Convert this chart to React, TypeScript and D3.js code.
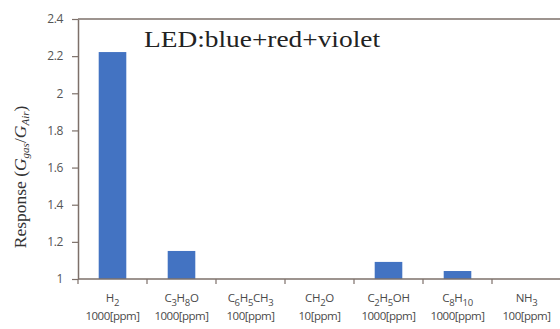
import React, { useEffect, useRef } from 'react';
import * as d3 from 'd3';

// gas formula pieces: [text, isSubscript]
const gasNames: [string, boolean][][] = [
  [['H', false], ['2', true]],
  [['C', false], ['3', true], ['H', false], ['8', true], ['O', false]],
  [['C', false], ['6', true], ['H', false], ['5', true], ['CH', false], ['3', true]],
  [['CH', false], ['2', true], ['O', false]],
  [['C', false], ['2', true], ['H', false], ['5', true], ['OH', false]],
  [['C', false], ['8', true], ['H', false], ['10', true]],
  [['NH', false], ['3', true]],
];
const concentrations = ['1000[ppm]', '1000[ppm]', '100[ppm]', '10[ppm]', '1000[ppm]', '1000[ppm]', '100[ppm]'];
const responses = [2.222, 1.151, 1.0, 1.0, 1.092, 1.043, 1.0];
const yTicks = [1, 1.2, 1.4, 1.6, 1.8, 2, 2.2, 2.4];

const W = 560;
const H = 329;

export default function App() {
  const ref = useRef<SVGSVGElement | null>(null);

  useEffect(() => {
    const svg = d3.select(ref.current);
    svg.selectAll('*').remove();

    const left = 78, right = 561, top = 19, bottom = 279;
    const axisColor = '#7d706a';
    const idx = responses.map((_, i) => i);

    const x = d3.scaleBand<number>().domain(idx).range([left, right]).paddingInner(0.6).paddingOuter(0.3);
    const xb = d3.scaleBand<number>().domain(idx).range([left, right]);
    const y = d3.scaleLinear().domain([1, 2.4]).range([bottom, top]);

    svg.append('rect').attr('width', W).attr('height', H).attr('fill', '#fff');

    // bars
    svg.selectAll('rect.bar')
      .data(responses)
      .enter()
      .append('rect')
      .attr('class', 'bar')
      .attr('x', (d, i) => x(i)!)
      .attr('width', x.bandwidth())
      .attr('y', (d) => y(d))
      .attr('height', (d) => y(1) - y(d))
      .attr('fill', '#4373c2');

    // top frame line
    svg.append('line')
      .attr('x1', left).attr('x2', W).attr('y1', top).attr('y2', top)
      .attr('stroke', axisColor).attr('stroke-width', 1.5);

    // y axis
    const yAxis = svg.append('g').attr('transform', `translate(${left},0)`)
      .call(d3.axisLeft(y).tickValues(yTicks).tickSize(6).tickSizeOuter(0).tickFormat((d) => d3.format('')(+d)));
    yAxis.select('.domain').attr('stroke', axisColor).attr('stroke-width', 1.5);
    yAxis.selectAll('.tick line').attr('stroke', axisColor).attr('stroke-width', 1.2);
    yAxis.selectAll('.tick text')
      .attr('x', -15)
      .attr('fill', '#555')
      .attr('font-family', 'Open Sans, sans-serif')
      .attr('font-size', 12)
      .attr('letter-spacing', -0.4);

    // x axis line + boundary ticks
    svg.append('line')
      .attr('x1', left).attr('x2', W).attr('y1', bottom).attr('y2', bottom)
      .attr('stroke', axisColor).attr('stroke-width', 1.5);
    svg.selectAll('line.xtick')
      .data(idx)
      .enter()
      .append('line')
      .attr('class', 'xtick')
      .attr('x1', (i) => xb(i)!).attr('x2', (i) => xb(i)!)
      .attr('y1', bottom).attr('y2', bottom + 5)
      .attr('stroke', axisColor).attr('stroke-width', 1.2);

    // x labels
    const lbl = svg.append('g')
      .attr('font-family', 'Open Sans, sans-serif')
      .attr('fill', '#4a4a4a')
      .attr('text-anchor', 'middle');
    idx.forEach((i) => {
      const cx = xb(i)! + xb.bandwidth() / 2;
      const t = lbl.append('text').attr('x', cx).attr('y', 302).attr('font-size', 11.5)
        .attr('letter-spacing', -0.3);
      gasNames[i].forEach(([s, sub]) => {
        t.append('tspan')
          .attr('font-size', sub ? 9.5 : 11.5)
          .attr('baseline-shift', sub ? '-40%' : '0%')
          .text(s);
      });
      lbl.append('text').attr('x', cx).attr('y', 320).attr('font-size', 11.5)
        .attr('letter-spacing', -0.5).text(concentrations[i]);
    });

    // y axis title
    const yt = svg.append('text')
      .attr('transform', `translate(26,${(top + bottom) / 2 + 28}) rotate(-90)`)
      .attr('text-anchor', 'middle')
      .attr('font-family', 'Liberation Serif, serif')
      .attr('font-size', 17.5)
      .attr('fill', '#333');
    yt.append('tspan').text('Response (');
    yt.append('tspan').attr('font-style', 'italic').text('G');
    yt.append('tspan').attr('font-style', 'italic').attr('font-size', 11).attr('baseline-shift', '-30%').text('gas');
    yt.append('tspan').text('/');
    yt.append('tspan').attr('font-style', 'italic').text('G');
    yt.append('tspan').attr('font-style', 'italic').attr('font-size', 11).attr('baseline-shift', '-30%').text('Air');
    yt.append('tspan').text(')');

    // title inside plot
    svg.append('text')
      .attr('x', 144).attr('y', 47)
      .attr('font-family', 'Liberation Serif, serif')
      .attr('font-size', 24)
      .attr('textLength', 236)
      .attr('lengthAdjust', 'spacingAndGlyphs')
      .attr('fill', '#222')
      .text('LED:blue+red+violet');
  }, []);

  return (
    <svg ref={ref} width={W} height={H} style={{ position: 'absolute', left: 0, top: 0 }} />
  );
}
